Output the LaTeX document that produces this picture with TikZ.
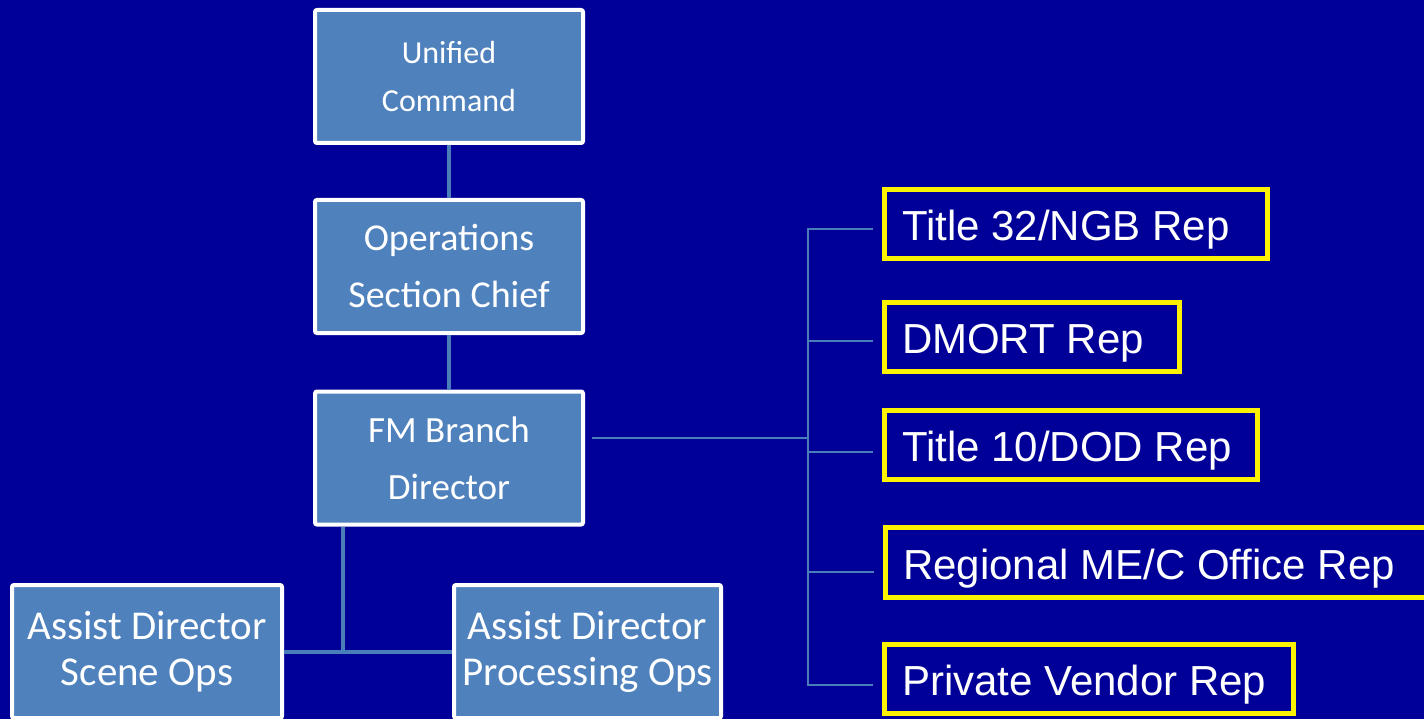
\documentclass[tikz,border=0pt]{standalone}
\usepackage{fontspec}
\setmainfont{Carlito}
\newfontfamily\repfont{Liberation Sans}
\definecolor{slidebg}{RGB}{0,0,153}
\definecolor{boxfill}{RGB}{79,129,189}
\definecolor{linkcol}{RGB}{74,126,187}
\newcommand{\reptext}[2]{\makebox[#1][l]{#2}}
\tikzset{
  chief/.style={draw=white,line width=4pt,fill=boxfill,text=white,rounded corners=2pt,
    align=center,minimum width=268pt,minimum height=133pt,inner sep=0pt},
  rep/.style={draw=yellow,line width=5pt,fill=slidebg,text=white,anchor=west,
    minimum height=69pt,inner xsep=18pt,inner ysep=0pt,text height=44pt,text depth=11pt,
    font=\repfont\fontsize{42}{50}\selectfont},
  thick link/.style={draw=linkcol,line width=4pt},
  thin link/.style={draw=linkcol,line width=2pt}
}
\begin{document}
\begin{tikzpicture}[x=1pt,y=-1pt]
  \fill[slidebg] (0,0) rectangle (1424,719);
  \useasboundingbox (0,0) rectangle (1424,719);
  \clip (0,0) rectangle (1424,719);
  \draw
    (449,76.5) node[chief,font=\fontsize{32}{48}\selectfont] (uc){Unified\\Command}
    (449,266.5) node[chief,font=\fontsize{38}{57}\selectfont] (osc){Operations\\Section Chief}
    (449,458) node[chief,font=\fontsize{37}{57}\selectfont] (fm){FM Branch\\Director}
    (147,651.5) node[chief,minimum width=270pt,font=\fontsize{41}{46}\selectfont] (ads){Assist Director\\Scene Ops}
    (587.5,651.5) node[chief,minimum width=267pt,font=\fontsize{41}{46}\selectfont] (adp){Assist Director\\Processing Ops};
  \draw
    (881.5,224) node[rep] (t32){\reptext{347pt}{Title 32/NGB Rep}}
    (881.5,337) node[rep] (dm){\reptext{259pt}{DMORT Rep}}
    (881.5,445) node[rep] (t10){\reptext{337pt}{Title 10/DOD Rep}}
    (882.5,562.5) node[rep,minimum height=70pt] (me){\reptext{510pt}{Regional ME/C Office Rep}}
    (881.5,679) node[rep] (pv){\reptext{373pt}{Private Vendor Rep}};
  \coordinate (fork) at (343,651.5);
  \coordinate (bus) at (808,438);
  \begin{scope}[thick link]
    \draw (uc) to (osc);
    \draw (osc) to (fm);
    \draw (fork |- fm.south) to (fork);
    \draw (ads) to (adp);
  \end{scope}
  \begin{scope}[thin link]
    \draw[shorten >=7pt] (bus) to (bus -| fm.east);
    \draw ([xshift=-9pt,yshift=-5pt]t32.west) -| (bus);
    \draw ([xshift=-9pt,yshift=-4pt]dm.west) -| (bus);
    \draw ([xshift=-9pt,yshift=-7pt]t10.west) -| (bus);
    \draw ([xshift=-9pt,yshift=-9pt]me.west) -| (bus);
    \draw ([xshift=-9pt,yshift=-6pt]pv.west) -| (bus);
  \end{scope}
\end{tikzpicture}
\end{document}
